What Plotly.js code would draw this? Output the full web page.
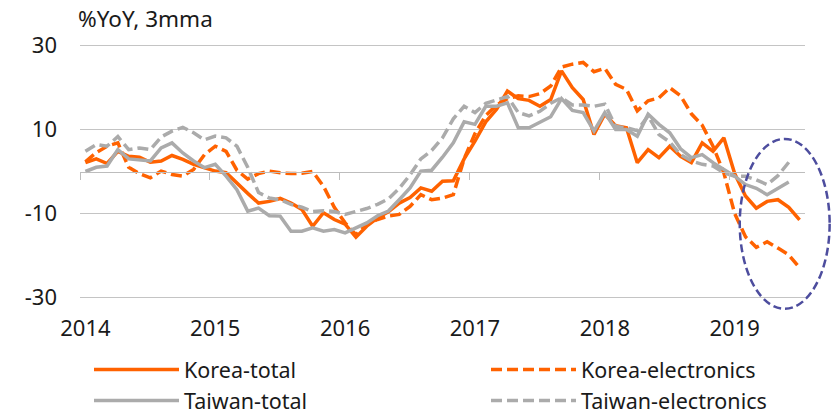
<!DOCTYPE html>
<html>
<head>
<meta charset="utf-8">
<script src="https://cdn.plot.ly/plotly-3.0.1.min.js"></script>
<style>html,body{margin:0;padding:0;background:#fff;}#chart{width:831px;height:414px;}</style>
</head>
<body>
<div id="chart"></div>
<script>
// Monthly data, Jan 2014 .. Jul 2019 (%YoY, 3mma)
const months = [
 '2014-01','2014-02','2014-03','2014-04','2014-05','2014-06','2014-07','2014-08','2014-09','2014-10','2014-11','2014-12',
 '2015-01','2015-02','2015-03','2015-04','2015-05','2015-06','2015-07','2015-08','2015-09','2015-10','2015-11','2015-12',
 '2016-01','2016-02','2016-03','2016-04','2016-05','2016-06','2016-07','2016-08','2016-09','2016-10','2016-11','2016-12',
 '2017-01','2017-02','2017-03','2017-04','2017-05','2017-06','2017-07','2017-08','2017-09','2017-10','2017-11','2017-12',
 '2018-01','2018-02','2018-03','2018-04','2018-05','2018-06','2018-07','2018-08','2018-09','2018-10','2018-11','2018-12',
 '2019-01','2019-02','2019-03','2019-04','2019-05','2019-06','2019-07'
];
const koreaTotal = [
 2.1,3.0,1.9,4.8,3.6,3.4,2.2,2.5,3.8,2.9,1.7,0.9,
 0.1,-0.3,-2.8,-5.2,-7.5,-7.1,-6.4,-7.5,-9.0,-13.0,-9.8,-11.4,
 -12.5,-15.6,-13.0,-11.0,-9.6,-7.5,-6.2,-3.9,-4.7,-2.3,-2.2,3.0,
 7.2,11.8,14.8,19.1,17.3,16.9,15.5,17.1,23.9,19.9,17.1,8.8,
 13.6,10.9,10.4,2.1,5.2,3.3,6.0,3.6,2.1,6.8,4.8,8.0,
 -0.5,-5.8,-8.7,-7.1,-6.7,-8.5,-11.5
];
const koreaElec = [
 2.3,4.5,6.0,6.8,1.0,-0.5,-1.5,0.1,-0.7,-1.1,0.5,4.0,
 6.0,4.8,0.3,-1.8,-0.5,0.1,-0.3,-0.5,-0.4,0.0,-3.5,-8.5,
 -12.2,-15.0,-12.6,-11.4,-10.6,-10.2,-8.3,-5.5,-6.7,-6.3,-5.5,3.0,
 9.0,13.3,15.8,17.3,18.0,17.8,18.5,20.3,24.8,25.5,25.9,23.7,
 24.5,20.7,19.5,14.4,16.8,17.5,19.9,18.0,13.7,11.0,6.0,-0.3,
 -10.0,-15.5,-18.0,-16.7,-18.2,-19.8,-22.9
];
const taiwanTotal = [
 0.0,1.0,1.3,5.2,3.0,2.8,2.5,5.6,6.8,4.4,2.5,0.9,
 1.7,-1.1,-4.3,-9.4,-8.7,-10.5,-10.6,-14.2,-14.2,-13.4,-14.2,-13.8,
 -14.6,-13.4,-12.2,-10.5,-9.4,-6.7,-3.9,0.1,0.3,3.4,6.8,11.8,
 11.2,15.5,15.5,16.3,10.4,10.4,11.6,13.0,17.3,14.5,14.0,9.6,
 14.0,10.0,10.0,8.4,13.6,11.2,9.2,5.4,3.3,4.0,2.1,0.4,
 -1.1,-3.1,-4.0,-5.5,-3.9,-2.5,null
];
const taiwanElec = [
 4.8,6.4,6.0,8.3,5.2,5.6,5.2,8.2,9.6,10.5,9.2,7.5,
 8.4,8.0,6.0,1.0,-5.0,-6.3,-6.7,-7.8,-8.5,-9.5,-9.3,-9.5,
 -10.2,-9.6,-8.8,-7.8,-6.5,-4.0,-0.8,3.0,5.0,8.0,12.5,15.5,
 14.0,16.2,17.1,17.8,14.0,13.2,14.3,16.2,17.5,15.8,15.8,15.5,
 16.0,10.7,10.4,9.7,13.2,8.8,7.0,4.0,2.5,1.7,1.3,-0.3,
 -1.1,-1.1,-2.0,-3.1,-1.0,2.2,null
];
const yearLabels = ['2014','2015','2016','2017','2018','2019'];
const yTickVals = [-30,-10,10,30];
const yTickText = ['-30','-10','10','30'];

const idx = months.map((m,i)=>i);
const yearIdx = yearLabels.map(y => months.indexOf(y+'-01'));
const yearBounds = yearIdx.map(i => i - 0.5);

const ORANGE = '#FF6200', GREY = '#ABABAB';
const FONT = '"Noto Sans", "Open Sans", sans-serif';
const LW = 3.5;

const traces = [
 {x: idx, y: koreaTotal, name: 'Korea-total', type: 'scatter', mode: 'lines',
  line: {color: ORANGE, width: LW}, legend: 'legend'},
 {x: idx, y: koreaElec, name: 'Korea-electronics', type: 'scatter', mode: 'lines',
  line: {color: ORANGE, width: LW, dash: '11px,5px'}, legend: 'legend2'},
 {x: idx, y: taiwanTotal, name: 'Taiwan-total', type: 'scatter', mode: 'lines',
  line: {color: GREY, width: LW}, legend: 'legend'},
 {x: idx, y: taiwanElec, name: 'Taiwan-electronics', type: 'scatter', mode: 'lines',
  line: {color: GREY, width: LW, dash: '11px,5px'}, legend: 'legend2', xaxis: 'x2'}
];

const legendCommon = {
  orientation: 'v', xref: 'container', yref: 'container', xanchor: 'left', yanchor: 'top',
  font: {family: FONT, size: 21.5, color: '#1a1a1a'},
  itemwidth: 85, bgcolor: 'rgba(0,0,0,0)', tracegroupgap: 0
};

const layout = {
  width: 831, height: 414,
  margin: {l: 80, r: 26, t: 41, b: 112, autoexpand: false},
  paper_bgcolor: '#ffffff', plot_bgcolor: '#ffffff',
  font: {family: FONT, size: 22, color: '#1a1a1a'},
  title: {text: '%YoY, 3mma', x: 78/831, xanchor: 'left', xref: 'container',
          y: 1 - 19/414, yanchor: 'middle', yref: 'container',
          font: {family: FONT, size: 22.5, color: '#1a1a1a'}},
  showlegend: true,
  legend: Object.assign({}, legendCommon, {x: 89/831, y: 1 - 349/414}),
  legend2: Object.assign({}, legendCommon, {x: 486/831, y: 1 - 349/414}),
  xaxis: {
    range: [-0.5, 66.5], tickmode: 'array', tickvals: yearIdx, ticktext: yearLabels,
    ticks: '', showgrid: false, zeroline: false, showline: false, tickangle: 0,
    tickfont: {family: FONT, size: 22, color: '#1a1a1a'}, ticklabelstandoff: 11
  },
  xaxis2: {
    overlaying: 'x', anchor: 'free', position: 0.5, matches: 'x',
    range: [-0.5, 66.5], tickmode: 'array', tickvals: yearBounds,
    ticks: 'outside', ticklen: 7, tickwidth: 1, tickcolor: '#BDBDBD',
    showticklabels: false, showgrid: false, zeroline: false,
    showline: true, linecolor: '#BDBDBD', linewidth: 1
  },
  yaxis: {
    range: [-31, 31], tickmode: 'array', tickvals: yTickVals, ticktext: yTickText,
    showgrid: true, gridcolor: '#C4C4C4', gridwidth: 1, zeroline: false, showline: false,
    ticks: '', tickfont: {family: FONT, size: 22, color: '#1a1a1a'}, ticklabelstandoff: 22
  },
  shapes: [{
    type: 'circle', xref: 'paper', yref: 'paper',
    x0: 0.910, x1: 1.034, y0: -0.026, y1: 0.625,
    line: {color: '#4D4D9E', width: 2.5, dash: '8px,4px'}, layer: 'above'
  }]
};

Plotly.newPlot('chart', traces, layout, {staticPlot: true, displayModeBar: false});
</script>
</body>
</html>
